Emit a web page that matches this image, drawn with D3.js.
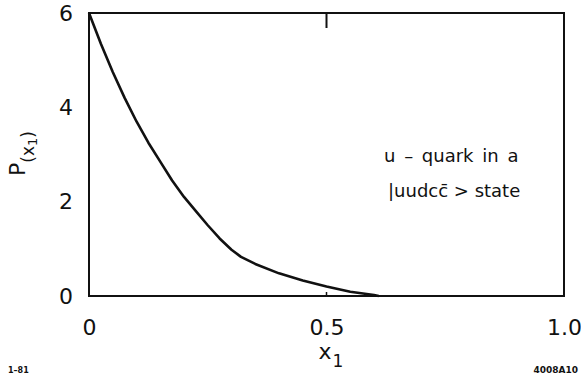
<!DOCTYPE html>
<html>
<head>
<meta charset="utf-8">
<script src="https://cdn.jsdelivr.net/npm/d3@7"></script>
<style>
  html, body { margin: 0; padding: 0; background: #fff; }
  svg { display: block; }
  text { font-family: "DejaVu Sans", "Liberation Sans", sans-serif; fill: #111; }
</style>
</head>
<body>
<svg id="chart" width="581" height="377"></svg>
<script>
// Momentum distribution of a u-quark in the |uudcc̄> Fock state
const xValues = [0, 0.025, 0.05, 0.075, 0.1, 0.125, 0.15, 0.175, 0.2, 0.225, 0.25,
                 0.275, 0.3, 0.32, 0.35, 0.4, 0.45, 0.5, 0.55, 0.6, 0.61];
const pValues = [6.0, 5.35, 4.75, 4.2, 3.7, 3.25, 2.85, 2.45, 2.1, 1.8, 1.5,
                 1.22, 0.98, 0.83, 0.68, 0.48, 0.33, 0.2, 0.09, 0.02, 0.0];
const xTicks = [0, 0.5, 1.0];
const xTickLabels = ["0", "0.5", "1.0"];
const yTicks = [0, 2, 4, 6];
const yTickLabels = ["0", "2", "4", "6"];

const margin = { left: 89, right: 17, top: 13, bottom: 81 };
const W = 581, H = 377;
const svg = d3.select("#chart");

const x = d3.scaleLinear().domain([0, 1]).range([margin.left, W - margin.right]);
const y = d3.scaleLinear().domain([0, 6]).range([H - margin.bottom, margin.top]);

// frame
svg.append("rect")
  .attr("x", x(0)).attr("y", y(6))
  .attr("width", x(1) - x(0)).attr("height", y(0) - y(6))
  .attr("fill", "none").attr("stroke", "#111").attr("stroke-width", 2);

// bottom axis labels
const xAxis = d3.axisBottom(x).tickValues(xTicks)
  .tickFormat((d, i) => xTickLabels[i]).tickSize(0).tickPadding(23);
const gx = svg.append("g").attr("transform", `translate(0,${y(0)})`).call(xAxis);
gx.select(".domain").remove();
gx.selectAll("text").style("font-size", "22px").style("font-family", "DejaVu Sans, sans-serif");

// left axis labels
const yAxis = d3.axisLeft(y).tickValues(yTicks)
  .tickFormat((d, i) => yTickLabels[i]).tickSize(0).tickPadding(16);
const gy = svg.append("g").attr("transform", `translate(${x(0)},0)`).call(yAxis);
gy.select(".domain").remove();
gy.selectAll("text").style("font-size", "22px").style("font-family", "DejaVu Sans, sans-serif");

// inward tick at x = 0.5 on the top edge, a small one on the bottom edge
svg.append("line")
  .attr("x1", x(0.5)).attr("x2", x(0.5))
  .attr("y1", y(6)).attr("y2", y(6) + 15)
  .attr("stroke", "#111").attr("stroke-width", 2);
svg.append("line")
  .attr("x1", x(0.5)).attr("x2", x(0.5))
  .attr("y1", y(0)).attr("y2", y(0) - 4)
  .attr("stroke", "#111").attr("stroke-width", 1.5);

// curve
const line = d3.line().x((d, i) => x(xValues[i])).y(d => y(d));
svg.append("path")
  .datum(pValues)
  .attr("d", line)
  .attr("fill", "none")
  .attr("stroke", "#111")
  .attr("stroke-width", 2.6)
  .attr("stroke-linejoin", "round");

// annotation
const ann = svg.append("g").style("font-size", "18px");
ann.append("text").attr("x", 384).attr("y", 162).style("word-spacing", "3px")
  .text("u \u2013 quark in a");
ann.append("text").attr("x", 388).attr("y", 197)
  .text("|uudcc\u0304 > state");

// axis titles
const xt = svg.append("text")
  .attr("x", x(0.5) - 8).attr("y", 359)
  .style("font-size", "22px");
xt.append("tspan").text("x");
xt.append("tspan").attr("dy", 8).attr("dx", 1).style("font-size", "17px").text("1");

const yt = svg.append("text")
  .attr("transform", "translate(25,176) rotate(-90)")
  .attr("text-anchor", "start").style("font-size", "22px");
yt.append("tspan").text("P");
yt.append("tspan").attr("dy", 9).style("font-size", "17px").text("(x");
yt.append("tspan").attr("dy", 3).style("font-size", "13px").text("1");
yt.append("tspan").attr("dy", -3).style("font-size", "17px").text(")");

// corner marks
svg.append("text").attr("x", 8).attr("y", 373)
  .style("font-size", "8px").style("font-weight", "bold").text("1\u201381");
svg.append("text").attr("x", 578).attr("y", 373).attr("text-anchor", "end")
  .style("font-size", "9px").style("font-weight", "bold").text("4008A10");
</script>
</body>
</html>
